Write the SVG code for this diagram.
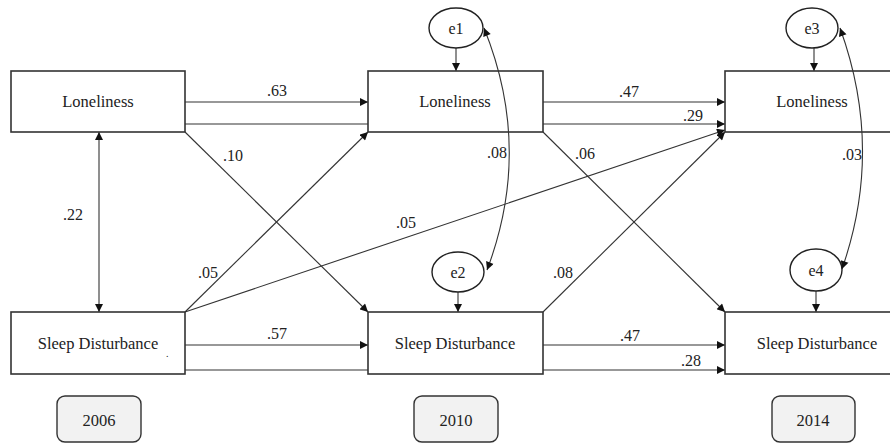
<svg xmlns="http://www.w3.org/2000/svg" width="890" height="445" viewBox="0 0 890 445">
<defs>
<marker id="ah" viewBox="0 0 10 10" refX="10" refY="5" markerWidth="9" markerHeight="8" markerUnits="userSpaceOnUse" orient="auto-start-reverse">
<path d="M0,0 L10,5 L0,10 z" fill="#111"/>
</marker>
<style>
.box{fill:#fff;stroke:#333;stroke-width:1.6}
.yr{fill:#f2f2f2;stroke:#333;stroke-width:1.4}
.el{fill:#fff;stroke:#222;stroke-width:1.4}
.ln{fill:none;stroke:#333;stroke-width:1.1}
.arr{marker-end:url(#ah)}
.dbl{marker-start:url(#ah);marker-end:url(#ah)}
.nt{font-size:16.5px;text-anchor:middle}
.lb{font-size:16px;text-anchor:middle}
</style>
</defs>
<rect width="890" height="445" fill="#fff"/>
<g id="connectors">
<line class="ln arr" x1="185" y1="102" x2="368" y2="102"/>
<line class="ln arr" x1="185" y1="124" x2="725" y2="124"/>
<line class="ln arr" x1="543" y1="102" x2="725" y2="102"/>
<line class="ln arr" x1="185" y1="345" x2="368" y2="345"/>
<line class="ln arr" x1="185" y1="370" x2="725" y2="370"/>
<line class="ln arr" x1="543" y1="345" x2="725" y2="345"/>
<line class="ln arr" x1="185" y1="132" x2="368" y2="312"/>
<line class="ln arr" x1="185" y1="312" x2="368" y2="132"/>
<line class="ln arr" x1="185" y1="312" x2="725" y2="130"/>
<line class="ln arr" x1="543" y1="132" x2="725" y2="312"/>
<line class="ln arr" x1="543" y1="312" x2="725" y2="132"/>
<line class="ln dbl" x1="99" y1="132" x2="99" y2="312"/>
<line class="ln arr" x1="456" y1="48" x2="456" y2="71"/>
<line class="ln arr" x1="458" y1="292" x2="458" y2="312"/>
<line class="ln arr" x1="814" y1="48" x2="814" y2="71"/>
<line class="ln arr" x1="816" y1="290" x2="816" y2="312"/>
</g>
<g font-family="'Liberation Serif', 'Times New Roman', 'DejaVu Serif', serif" fill="#222">
<g id="loneliness2006"><rect class="box" x="11" y="71" width="174" height="61"/><text class="nt" x="98" y="107">Loneliness</text></g>
<g id="loneliness2010"><rect class="box" x="368" y="71" width="175" height="61"/><text class="nt" x="455" y="107">Loneliness</text></g>
<g id="loneliness2014"><rect class="box" x="725" y="71" width="175" height="61"/><text class="nt" x="812" y="107">Loneliness</text></g>
<g id="sleep2006"><rect class="box" x="11" y="312" width="174" height="62"/><text class="nt" x="98" y="349">Sleep Disturbance</text><text x="166" y="357" font-size="10px">.</text></g>
<g id="sleep2010"><rect class="box" x="368" y="312" width="175" height="62"/><text class="nt" x="455" y="349">Sleep Disturbance</text></g>
<g id="sleep2014"><rect class="box" x="725" y="312" width="175" height="62"/><text class="nt" x="817" y="349">Sleep Disturbance</text></g>
<g id="e1"><ellipse class="el" cx="456" cy="28" rx="27" ry="20"/><text class="lb" x="456" y="34">e1</text></g>
<g id="e2"><ellipse class="el" cx="458" cy="272" rx="26" ry="20"/><text class="lb" x="458" y="278">e2</text></g>
<g id="e3"><ellipse class="el" cx="812" cy="28" rx="26" ry="20"/><text class="lb" x="812" y="34">e3</text></g>
<g id="e4"><ellipse class="el" cx="816" cy="270" rx="26" ry="21"/><text class="lb" x="816" y="276">e4</text></g>
<g id="covariances">
<path class="ln dbl" d="M484,28 Q533,149 487,270"/>
<path class="ln dbl" d="M840,28 Q884,149 842,269"/>
</g>
<g id="y2006"><rect class="yr" x="57" y="396" width="84" height="46" rx="8"/><text class="nt" x="99" y="426">2006</text></g>
<g id="y2010"><rect class="yr" x="414" y="396" width="84" height="46" rx="8"/><text class="nt" x="456" y="426">2010</text></g>
<g id="y2014"><rect class="yr" x="772" y="396" width="83" height="46" rx="8"/><text class="nt" x="813" y="426">2014</text></g>
<g id="labels">
<text class="lb" x="277" y="96">.63</text>
<text class="lb" x="233" y="161">.10</text>
<text class="lb" x="73" y="220">.22</text>
<text class="lb" x="629" y="97">.47</text>
<text class="lb" x="693" y="121">.29</text>
<text class="lb" x="585" y="159">.06</text>
<text class="lb" x="497" y="158">.08</text>
<text class="lb" x="852" y="160">.03</text>
<text class="lb" x="406" y="228">.05</text>
<text class="lb" x="208" y="278">.05</text>
<text class="lb" x="563" y="278">.08</text>
<text class="lb" x="277" y="339">.57</text>
<text class="lb" x="630" y="341">.47</text>
<text class="lb" x="691" y="366">.28</text>
</g>
</g>
</svg>
